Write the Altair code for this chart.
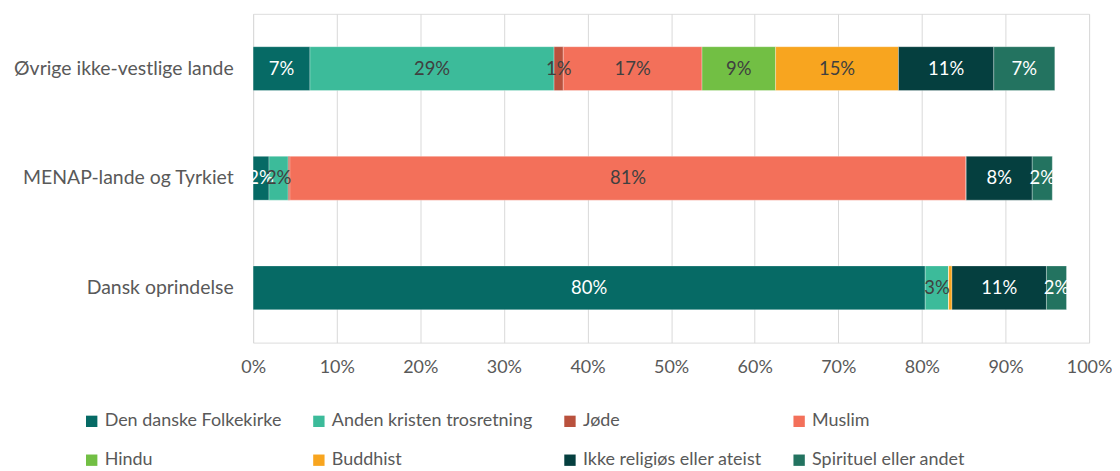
import altair as alt
import pandas as pd

groups = ["Øvrige ikke-vestlige lande", "MENAP-lande og Tyrkiet", "Dansk oprindelse"]
religions = ["Den danske Folkekirke", "Anden kristen trosretning", "Jøde", "Muslim",
             "Hindu", "Buddhist", "Ikke religiøs eller ateist", "Spirituel eller andet"]
colors = ["#066A65", "#3CBB9A", "#B9513D", "#F3705A", "#72BF44", "#F8A51F", "#053F3F", "#237360"]
dark_segments = ["Den danske Folkekirke", "Ikke religiøs eller ateist", "Spirituel eller andet"]

ovrige = [6.8, 29.2, 1.1, 16.6, 8.8, 14.7, 11.4, 7.3]
menap = [1.9, 2.3, 0.2, 80.9, 0.0, 0.0, 7.9, 2.4]
dansk = [80.4, 2.8, 0.0, 0.0, 0.0, 0.4, 11.3, 2.4]

rows = []
for g, vals in zip(groups, [ovrige, menap, dansk]):
    for i, (r, v) in enumerate(zip(religions, vals)):
        rows.append({"Group": g, "Religion": r, "value": v / 100.0, "order": i,
                     "label": f"{round(v):.0f}%" if v >= 0.5 else ""})
df = pd.DataFrame(rows)

FONT = "Lato"
GREY = "#595959"

base = alt.Chart(df).transform_stack(
    stack="value", groupby=["Group"], as_=["x0", "x1"],
    sort=[alt.SortField("order", order="ascending")]
).transform_calculate(mid="(datum.x0 + datum.x1) / 2")

yenc = alt.Y("Group:N", sort=groups, title=None,
             scale=alt.Scale(paddingInner=0.6, paddingOuter=0.3),
             axis=alt.Axis(labelFont=FONT, labelFontSize=19.5, labelColor=GREY, ticks=False,
                           domain=False, labelPadding=20, minExtent=240, maxExtent=240,
                           labelLimit=300))

bars = base.mark_bar(stroke="white", strokeWidth=0.5, strokeOpacity=0.6).encode(
    x=alt.X("x0:Q", title=None,
            scale=alt.Scale(domain=[0, 1], nice=False),
            axis=alt.Axis(format=".0%", values=[i / 10 for i in range(11)],
                          labelFont=FONT, labelFontSize=18, labelColor=GREY,
                          labelFlush=False,
                          ticks=False, domain=False, grid=True, gridColor="#D9D9D9",
                          labelPadding=16)),
    x2="x1:Q",
    y=yenc,
    color=alt.Color("Religion:N", sort=religions,
                    scale=alt.Scale(domain=religions, range=colors),
                    legend=alt.Legend(title=None, orient="none", direction="horizontal",
                                      columns=4, legendX=-171, legendY=400,
                                      symbolType="square", symbolSize=130,
                                      symbolStrokeWidth=0, symbolOffset=0,
                                      labelFont=FONT, labelFontSize=18, labelColor=GREY,
                                      labelOffset=4, columnPadding=28, rowPadding=21,
                                      labelLimit=400, padding=0)),
    order=alt.Order("order:Q"),
)

labels = base.mark_text(font=FONT, fontSize=18.5).encode(
    x=alt.X("mid:Q"),
    y=alt.Y("Group:N", sort=groups),
    text="label:N",
    color=alt.condition(alt.FieldOneOfPredicate(field="Religion", oneOf=dark_segments),
                        alt.value("white"), alt.value("#404040")),
)

chart = alt.layer(bars, labels).properties(
    width=839, height=330,
    padding={"left": 5, "top": 5, "right": 0, "bottom": 0},
).configure_view(stroke=None).configure(background="white")

chart.save("out.html", embed_options={"renderer": "svg", "actions": False})
